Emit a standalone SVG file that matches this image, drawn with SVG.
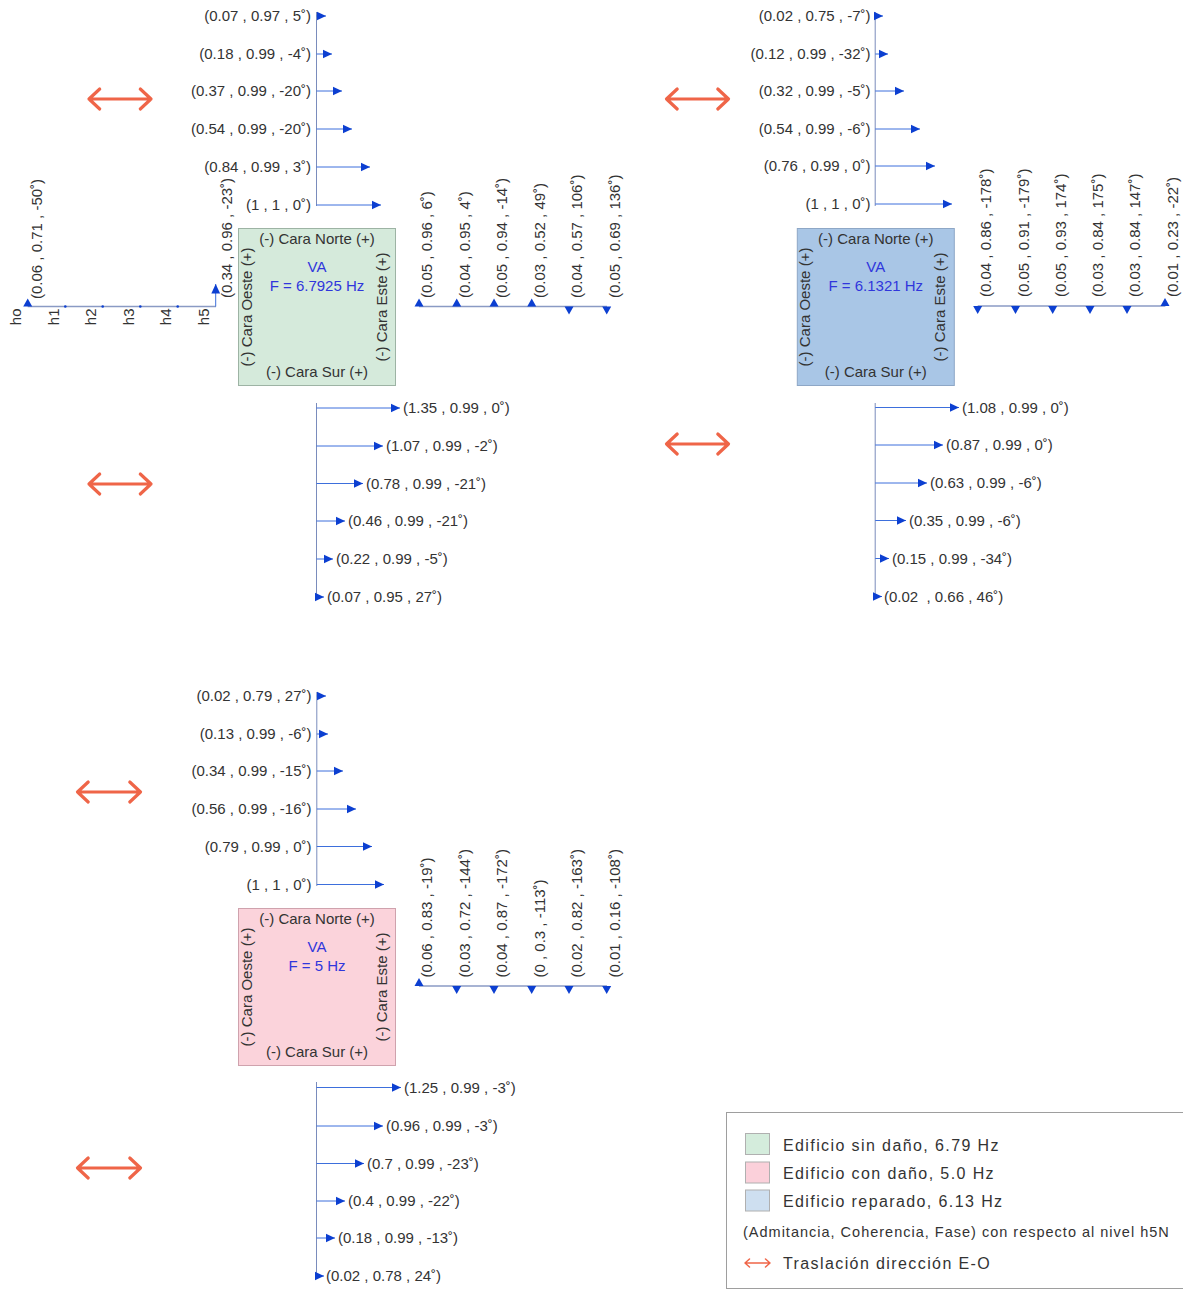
<svg xmlns="http://www.w3.org/2000/svg" xmlns:xlink="http://www.w3.org/1999/xlink" width="1183" height="1290" viewBox="0 0 1183 1290">
<style>
text{font-family:"Liberation Sans",Arial,sans-serif;font-size:15px;fill:#333}
.e{text-anchor:end}
.m{text-anchor:middle}
.va{fill:#3036dc}
.ax{stroke:#7a8cbc;stroke-width:1;fill:none}
.hl{stroke:#8a9ac4;stroke-width:1.3;fill:none}
.arr{stroke:#3d6fdc;stroke-width:1;fill:none;marker-end:url(#ah)}
.hd{fill:#0c3fd1}
.ew{stroke:#ef6548;stroke-width:3.2;fill:none;stroke-linecap:round;stroke-linejoin:round}
.lg{font-size:16px;letter-spacing:1.4px}
.lg2{font-size:14.5px;letter-spacing:1px}
</style>
<defs>
<marker id="ah" viewBox="0 0 10 10" refX="10" refY="5" markerWidth="9.5" markerHeight="9.5" markerUnits="userSpaceOnUse" orient="auto"><path d="M0,0.4 L10,5 L0,9.6 z" fill="#0c3fd1"/></marker>
</defs>
<rect width="1183" height="1290" fill="#fff"/>

<!-- ===== Nodes: building boxes ===== -->
<g id="box-sin-dano" transform="translate(238.5,228.5)">
<rect width="157" height="157" fill="#d5eadb" stroke="#9db3a4"/>
<text class="m" x="78.5" y="15">(-) Cara Norte (+)</text>
<text class="m va" x="78.5" y="43.5">VA</text>
<text class="m va" x="78.5" y="62">F = 6.7925 Hz</text>
<text class="m" x="78.5" y="148.5">(-) Cara Sur (+)</text>
<text class="m" transform="translate(13,78.5) rotate(-90)">(-) Cara Oeste (+)</text>
<text class="m" transform="translate(148,78.5) rotate(-90)">(-) Cara Este (+)</text>
</g>
<g id="box-reparado" transform="translate(797.3,228.5)">
<rect width="157" height="157" fill="#a9c6e6" stroke="#8ea7c6"/>
<text class="m" x="78.5" y="15">(-) Cara Norte (+)</text>
<text class="m va" x="78.5" y="43.5">VA</text>
<text class="m va" x="78.5" y="62">F = 6.1321 Hz</text>
<text class="m" x="78.5" y="148.5">(-) Cara Sur (+)</text>
<text class="m" transform="translate(13,78.5) rotate(-90)">(-) Cara Oeste (+)</text>
<text class="m" transform="translate(148,78.5) rotate(-90)">(-) Cara Este (+)</text>
</g>
<g id="box-con-dano" transform="translate(238.5,908.5)">
<rect width="157" height="157" fill="#fbd3db" stroke="#cfa2ad"/>
<text class="m" x="78.5" y="15">(-) Cara Norte (+)</text>
<text class="m va" x="78.5" y="43.5">VA</text>
<text class="m va" x="78.5" y="62">F = 5 Hz</text>
<text class="m" x="78.5" y="148.5">(-) Cara Sur (+)</text>
<text class="m" transform="translate(13,78.5) rotate(-90)">(-) Cara Oeste (+)</text>
<text class="m" transform="translate(148,78.5) rotate(-90)">(-) Cara Este (+)</text>
</g>

<!-- ===== Connectors: admittance vectors ===== -->
<g id="connectors">
<!-- Panel 1 north -->
<g id="p1-norte">
<line class="ax" x1="316.5" y1="12" x2="316.5" y2="206"/>
<line class="arr" x1="316.5" y1="16" x2="326" y2="16"/>
<line class="arr" x1="316.5" y1="54" x2="332" y2="54"/>
<line class="arr" x1="316.5" y1="91" x2="342" y2="91"/>
<line class="arr" x1="316.5" y1="129" x2="352" y2="129"/>
<line class="arr" x1="316.5" y1="167" x2="370" y2="167"/>
<line class="arr" x1="316.5" y1="205" x2="381" y2="205"/>
<text class="e" x="311" y="21">(0.07 , 0.97 , 5˚)</text>
<text class="e" x="311" y="59">(0.18 , 0.99 , -4˚)</text>
<text class="e" x="311" y="96">(0.37 , 0.99 , -20˚)</text>
<text class="e" x="311" y="134">(0.54 , 0.99 , -20˚)</text>
<text class="e" x="311" y="172">(0.84 , 0.99 , 3˚)</text>
<text class="e" x="311" y="210">(1 , 1 , 0˚)</text>
</g>
<!-- Panel 1 south -->
<g id="p1-sur">
<line class="ax" x1="316.5" y1="403" x2="316.5" y2="598"/>
<line class="arr" x1="316.5" y1="408" x2="400" y2="408"/>
<line class="arr" x1="316.5" y1="446" x2="383" y2="446"/>
<line class="arr" x1="316.5" y1="483.5" x2="363" y2="483.5"/>
<line class="arr" x1="316.5" y1="521" x2="345" y2="521"/>
<line class="arr" x1="316.5" y1="559" x2="333" y2="559"/>
<line class="arr" x1="316.5" y1="597" x2="324" y2="597"/>
<text x="403" y="413">(1.35 , 0.99 , 0˚)</text>
<text x="386" y="451">(1.07 , 0.99 , -2˚)</text>
<text x="366" y="488.5">(0.78 , 0.99 , -21˚)</text>
<text x="348" y="526">(0.46 , 0.99 , -21˚)</text>
<text x="336" y="564">(0.22 , 0.99 , -5˚)</text>
<text x="327" y="602">(0.07 , 0.95 , 27˚)</text>
</g>
<!-- Panel 1 east -->
<g id="p1-este">
<line class="hl" x1="419" y1="306.5" x2="607" y2="306.5"/>
<polygon class="hd" points="414.5,306.5 423.5,306.5 419,298.5"/>
<polygon class="hd" points="452.2,306.5 461.2,306.5 456.7,298.5"/>
<polygon class="hd" points="489.5,306.5 498.5,306.5 494,298.5"/>
<polygon class="hd" points="527.2,306.5 536.2,306.5 531.7,298.5"/>
<polygon class="hd" points="564.5,306.5 573.5,306.5 569,314.5"/>
<polygon class="hd" points="602.2,306.5 611.2,306.5 606.7,314.5"/>
<text transform="translate(432.4,298) rotate(-90)">(0.05 , 0.96 , 6˚)</text>
<text transform="translate(470.1,298) rotate(-90)">(0.04 , 0.95 , 4˚)</text>
<text transform="translate(507.4,298) rotate(-90)">(0.05 , 0.94 , -14˚)</text>
<text transform="translate(545.1,298) rotate(-90)">(0.03 , 0.52 , 49˚)</text>
<text transform="translate(582.4,298) rotate(-90)">(0.04 , 0.57 , 106˚)</text>
<text transform="translate(620.1,298) rotate(-90)">(0.05 , 0.69 , 136˚)</text>
</g>
<!-- Panel 1 west (levels) -->
<g id="p1-oeste">
<line class="hl" x1="27.7" y1="306.5" x2="216" y2="306.5"/>
<polygon class="hd" points="23.2,306.5 32.2,306.5 27.7,298.5"/>
<line class="arr" x1="215.7" y1="306.5" x2="215.7" y2="284"/>
<circle class="hd" cx="65.3" cy="306.5" r="1.3"/>
<circle class="hd" cx="102.7" cy="306.5" r="1.3"/>
<circle class="hd" cx="140.3" cy="306.5" r="1.3"/>
<circle class="hd" cx="177.7" cy="306.5" r="1.3"/>
<text class="e" transform="translate(21,308.5) rotate(-90)">ho</text>
<text class="e" transform="translate(58.5,308.5) rotate(-90)">h1</text>
<text class="e" transform="translate(96,308.5) rotate(-90)">h2</text>
<text class="e" transform="translate(133.5,308.5) rotate(-90)">h3</text>
<text class="e" transform="translate(171,308.5) rotate(-90)">h4</text>
<text class="e" transform="translate(209,308.5) rotate(-90)">h5</text>
<text transform="translate(41.5,299) rotate(-90)">(0.06 , 0.71 , -50˚)</text>
<text transform="translate(231.5,298) rotate(-90)">(0.34 , 0.96 , -23˚)</text>
</g>

<!-- Panel 2 north -->
<g id="p2-norte">
<line class="ax" x1="875.2" y1="12" x2="875.2" y2="206"/>
<line class="arr" x1="875.2" y1="16" x2="883" y2="16"/>
<line class="arr" x1="875.2" y1="54" x2="888" y2="54"/>
<line class="arr" x1="875.2" y1="91" x2="904" y2="91"/>
<line class="arr" x1="875.2" y1="129" x2="920" y2="129"/>
<line class="arr" x1="875.2" y1="166" x2="935" y2="166"/>
<line class="arr" x1="875.2" y1="204" x2="952" y2="204"/>
<text class="e" x="870.5" y="21">(0.02 , 0.75 , -7˚)</text>
<text class="e" x="870.5" y="59">(0.12 , 0.99 , -32˚)</text>
<text class="e" x="870.5" y="96">(0.32 , 0.99 , -5˚)</text>
<text class="e" x="870.5" y="134">(0.54 , 0.99 , -6˚)</text>
<text class="e" x="870.5" y="171">(0.76 , 0.99 , 0˚)</text>
<text class="e" x="870.5" y="209">(1 , 1 , 0˚)</text>
</g>
<!-- Panel 2 south -->
<g id="p2-sur">
<line class="ax" x1="875.2" y1="403" x2="875.2" y2="599"/>
<line class="arr" x1="875.2" y1="407.5" x2="959" y2="407.5"/>
<line class="arr" x1="875.2" y1="445" x2="943" y2="445"/>
<line class="arr" x1="875.2" y1="483" x2="927" y2="483"/>
<line class="arr" x1="875.2" y1="520.5" x2="906" y2="520.5"/>
<line class="arr" x1="875.2" y1="558.5" x2="889" y2="558.5"/>
<line class="arr" x1="875.2" y1="596.5" x2="882" y2="596.5"/>
<text x="962" y="412.5">(1.08 , 0.99 , 0˚)</text>
<text x="946" y="450">(0.87 , 0.99 , 0˚)</text>
<text x="930" y="488">(0.63 , 0.99 , -6˚)</text>
<text x="909" y="525.5">(0.35 , 0.99 , -6˚)</text>
<text x="892" y="563.5">(0.15 , 0.99 , -34˚)</text>
<text x="884" y="601.5" xml:space="preserve">(0.02  , 0.66 , 46˚)</text>
</g>
<!-- Panel 2 east -->
<g id="p2-este">
<line class="hl" x1="977.7" y1="306" x2="1165.4" y2="306"/>
<polygon class="hd" points="973.2,306 982.2,306 977.7,314"/>
<polygon class="hd" points="1011,306 1020,306 1015.5,314"/>
<polygon class="hd" points="1048.2,306 1057.2,306 1052.7,314"/>
<polygon class="hd" points="1085.5,306 1094.5,306 1090,314"/>
<polygon class="hd" points="1122.5,306 1131.5,306 1127,314"/>
<polygon class="hd" points="1160.5,306 1169.5,306 1165,298"/>
<text transform="translate(991.1,297) rotate(-90)">(0.04 , 0.86 , -178˚)</text>
<text transform="translate(1028.9,297) rotate(-90)">(0.05 , 0.91 , -179˚)</text>
<text transform="translate(1066.1,297) rotate(-90)">(0.05 , 0.93 , 174˚)</text>
<text transform="translate(1103.4,297) rotate(-90)">(0.03 , 0.84 , 175˚)</text>
<text transform="translate(1140.4,297) rotate(-90)">(0.03 , 0.84 , 147˚)</text>
<text transform="translate(1178.4,297) rotate(-90)">(0.01 , 0.23 , -22˚)</text>
</g>

<!-- Panel 3 north -->
<g id="p3-norte">
<line class="ax" x1="316.8" y1="692" x2="316.8" y2="886"/>
<line class="arr" x1="316.8" y1="696" x2="326" y2="696"/>
<line class="arr" x1="316.8" y1="734" x2="328" y2="734"/>
<line class="arr" x1="316.8" y1="771" x2="343" y2="771"/>
<line class="arr" x1="316.8" y1="809" x2="356" y2="809"/>
<line class="arr" x1="316.8" y1="846.5" x2="372" y2="846.5"/>
<line class="arr" x1="316.8" y1="884.5" x2="384" y2="884.5"/>
<text class="e" x="311.5" y="701">(0.02 , 0.79 , 27˚)</text>
<text class="e" x="311.5" y="739">(0.13 , 0.99 , -6˚)</text>
<text class="e" x="311.5" y="776">(0.34 , 0.99 , -15˚)</text>
<text class="e" x="311.5" y="814">(0.56 , 0.99 , -16˚)</text>
<text class="e" x="311.5" y="851.5">(0.79 , 0.99 , 0˚)</text>
<text class="e" x="311.5" y="889.5">(1 , 1 , 0˚)</text>
</g>
<!-- Panel 3 south -->
<g id="p3-sur">
<line class="ax" x1="316.5" y1="1082" x2="316.5" y2="1278"/>
<line class="arr" x1="316.5" y1="1087.5" x2="401" y2="1087.5"/>
<line class="arr" x1="316.5" y1="1126" x2="383" y2="1126"/>
<line class="arr" x1="316.5" y1="1163.5" x2="364" y2="1163.5"/>
<line class="arr" x1="316.5" y1="1201" x2="345" y2="1201"/>
<line class="arr" x1="316.5" y1="1238" x2="335" y2="1238"/>
<line class="arr" x1="316.5" y1="1276" x2="324" y2="1276"/>
<text x="404" y="1092.5">(1.25 , 0.99 , -3˚)</text>
<text x="386" y="1131">(0.96 , 0.99 , -3˚)</text>
<text x="367" y="1168.5">(0.7 , 0.99 , -23˚)</text>
<text x="348" y="1206">(0.4 , 0.99 , -22˚)</text>
<text x="338" y="1243">(0.18 , 0.99 , -13˚)</text>
<text x="326" y="1281">(0.02 , 0.78 , 24˚)</text>
</g>
<!-- Panel 3 east -->
<g id="p3-este">
<line class="hl" x1="419" y1="986" x2="607" y2="986"/>
<polygon class="hd" points="414.5,986 423.5,986 419,978"/>
<polygon class="hd" points="452.2,986 461.2,986 456.7,994"/>
<polygon class="hd" points="489.5,986 498.5,986 494,994"/>
<polygon class="hd" points="527.2,986 536.2,986 531.7,994"/>
<polygon class="hd" points="564.5,986 573.5,986 569,994"/>
<polygon class="hd" points="602.2,986 611.2,986 606.7,994"/>
<text transform="translate(432.4,977.5) rotate(-90)">(0.06 , 0.83 , -19˚)</text>
<text transform="translate(470.1,977.5) rotate(-90)">(0.03 , 0.72 , -144˚)</text>
<text transform="translate(507.4,977.5) rotate(-90)">(0.04 , 0.87 , -172˚)</text>
<text transform="translate(545.1,977.5) rotate(-90)">(0 , 0.3 , -113˚)</text>
<text transform="translate(582.4,977.5) rotate(-90)">(0.02 , 0.82 , -163˚)</text>
<text transform="translate(620.1,977.5) rotate(-90)">(0.01 , 0.16 , -108˚)</text>
</g>

<!-- E-O translation double arrows -->
<g id="eo-arrows">
<path class="ew" d="M89,99 H151 M99.7,89 L89,99 L99.7,109 M140.3,89 L151,99 L140.3,109"/>
<path class="ew" d="M89,484 H151 M99.7,474 L89,484 L99.7,494 M140.3,474 L151,484 L140.3,494"/>
<path class="ew" d="M666.5,99 H728.5 M677.2,89 L666.5,99 L677.2,109 M717.8,89 L728.5,99 L717.8,109"/>
<path class="ew" d="M666.5,444 H728.5 M677.2,434 L666.5,444 L677.2,454 M717.8,434 L728.5,444 L717.8,454"/>
<path class="ew" d="M77.5,792 H140.5 M88.2,782 L77.5,792 L88.2,802 M129.8,782 L140.5,792 L129.8,802"/>
<path class="ew" d="M77.5,1168 H140.5 M88.2,1158 L77.5,1168 L88.2,1178 M129.8,1158 L140.5,1168 L129.8,1178"/>
</g>
</g>

<!-- ===== Legend ===== -->
<g id="legend">
<rect x="726.5" y="1112.5" width="470" height="176" fill="#fff" stroke="#9e9e9e"/>
<rect x="745.5" y="1133.5" width="24" height="21" fill="#d4ecdc" stroke="#b0b0b0"/>
<rect x="745.5" y="1162" width="24" height="21" fill="#fbd0da" stroke="#b0b0b0"/>
<rect x="745.5" y="1190" width="24" height="21" fill="#cedff0" stroke="#b0b0b0"/>
<text class="lg" x="783" y="1150.5">Edificio sin daño, 6.79 Hz</text>
<text class="lg" x="783" y="1178.5">Edificio con daño, 5.0 Hz</text>
<text class="lg" x="783" y="1206.5">Edificio reparado, 6.13 Hz</text>
<text class="lg2" x="743" y="1237">(Admitancia, Coherencia, Fase) con respecto al nivel h5N</text>
<path d="M745,1263 H770 M749.5,1259 L745,1263 L749.5,1267 M765.5,1259 L770,1263 L765.5,1267" stroke="#ef6548" stroke-width="1.5" fill="none" stroke-linecap="round" stroke-linejoin="round"/>
<text class="lg" x="783" y="1268.5">Traslación dirección E-O</text>
</g>
</svg>
